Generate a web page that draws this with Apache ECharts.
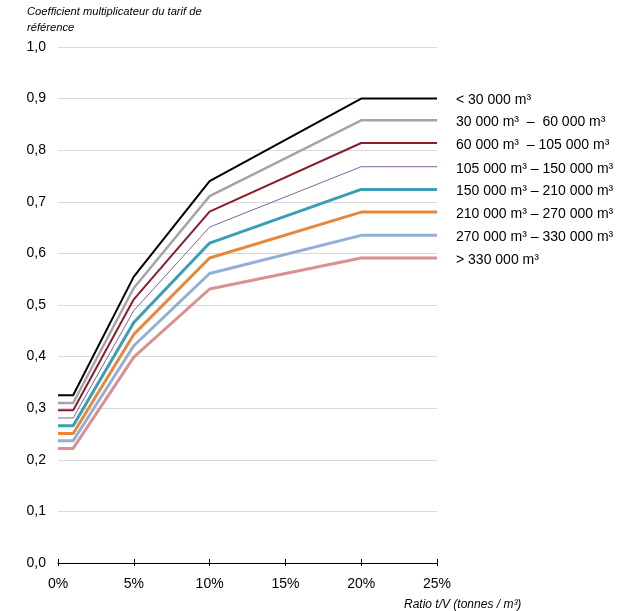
<!DOCTYPE html>
<html><head><meta charset="utf-8">
<script src="https://cdn.jsdelivr.net/npm/echarts@6/dist/echarts.min.js"></script>
<style>html,body{margin:0;padding:0;background:#fff}#c{width:626px;height:611px}</style>
</head><body><div id="c"></div>
<script>
var xValues = [0, 0.01, 0.05, 0.10, 0.20, 0.25];
var xTicks = ['0%', '5%', '10%', '15%', '20%', '25%'];
var yTicks = ['0,0','0,1','0,2','0,3','0,4','0,5','0,6','0,7','0,8','0,9','1,0'];
var seriesNames = [
  '< 30 000 m\u00b3',
  '30 000 m\u00b3  \u2013  60 000 m\u00b3',
  '60 000 m\u00b3  \u2013 105 000 m\u00b3',
  '105 000 m\u00b3 \u2013 150 000 m\u00b3',
  '150 000 m\u00b3 \u2013 210 000 m\u00b3',
  '210 000 m\u00b3 \u2013 270 000 m\u00b3',
  '270 000 m\u00b3 \u2013 330 000 m\u00b3',
  '> 330 000 m\u00b3'
];
var s1 = [0.325, 0.325, 0.555, 0.740, 0.900, 0.900];
var s2 = [0.310, 0.310, 0.533, 0.711, 0.858, 0.858];
var s3 = [0.296, 0.296, 0.511, 0.681, 0.814, 0.814];
var s4 = [0.281, 0.281, 0.489, 0.651, 0.768, 0.768];
var s5 = [0.266, 0.266, 0.466, 0.620, 0.724, 0.724];
var s6 = [0.251, 0.251, 0.443, 0.591, 0.680, 0.680];
var s7 = [0.237, 0.237, 0.421, 0.561, 0.635, 0.635];
var s8 = [0.222, 0.222, 0.399, 0.531, 0.591, 0.591];
var allSeries = [s1, s2, s3, s4, s5, s6, s7, s8];

var colors = ['#000000', '#a5a5a5', '#8e1b2b', '#7f62a0', '#3a9fb5', '#e8873a', '#92b0d6', '#d99090'];
var widths = [2, 2.5, 2, 1, 3, 3, 3, 3];

var chart = echarts.init(document.getElementById('c'), null, {renderer: 'canvas'});
var font = 'Liberation Sans, Arial, sans-serif';
var series = allSeries.map(function (vals, i) {
  return {
    name: seriesNames[i],
    type: 'line',
    data: vals.map(function (v, j) { return [xValues[j], v]; }),
    symbol: 'none',
    lineStyle: {color: colors[i], width: widths[i]},
    itemStyle: {color: colors[i]},
    animation: false,
    endLabel: {
      show: true,
      formatter: function (p) { return p.seriesName; },
      distance: 19,
      offset: [0, 2],
      color: '#000',
      fontSize: 14,
      fontFamily: font
    }
  };
});

chart.setOption({
  animation: false,
  textStyle: {fontFamily: font},
  title: [
    {text: 'Coefficient multiplicateur du tarif de\nr\u00e9f\u00e9rence', left: 27, top: 4, padding: 0,
     textStyle: {fontSize: 11.2, fontStyle: 'italic', fontWeight: 'normal', color: '#000', lineHeight: 16, fontFamily: font}},
    {text: 'Ratio t/V (tonnes / m\u00b3)', left: 404, top: 598, padding: 0,
     textStyle: {fontSize: 12, fontStyle: 'italic', fontWeight: 'normal', color: '#000', lineHeight: 14, fontFamily: font}}
  ],
  grid: {left: 58, right: 189, top: 47, bottom: 48, containLabel: false},
  xAxis: [{
    type: 'value', min: 0, max: 0.25, interval: 0.05,
    axisLine: {show: true, lineStyle: {color: '#000', width: 1}},
    axisTick: {show: true, length: 3, inside: false, lineStyle: {color: '#000'}},
    splitLine: {show: false},
    axisLabel: {
      color: '#000', fontSize: 14, margin: 14, fontFamily: font,
      formatter: function (v) { return xTicks[Math.round(v / 0.05)]; }
    }
  }, {
    type: 'value', min: 0, max: 0.25, interval: 0.05, position: 'bottom', offset: 0,
    axisLine: {show: false},
    axisTick: {show: true, length: 4, inside: true, lineStyle: {color: '#000'}},
    axisLabel: {show: false},
    splitLine: {show: false}
  }],
  yAxis: {
    type: 'value', min: 0, max: 1, interval: 0.1,
    axisLine: {show: false}, axisTick: {show: false},
    splitLine: {show: true, lineStyle: {color: '#d9d9d9', width: 1}},
    axisLabel: {
      color: '#000', fontSize: 14, margin: 12, fontFamily: font, padding: [4, 0, 0, 0],
      formatter: function (v) { return yTicks[Math.round(v * 10)]; }
    }
  },
  series: series
});
</script></body></html>
